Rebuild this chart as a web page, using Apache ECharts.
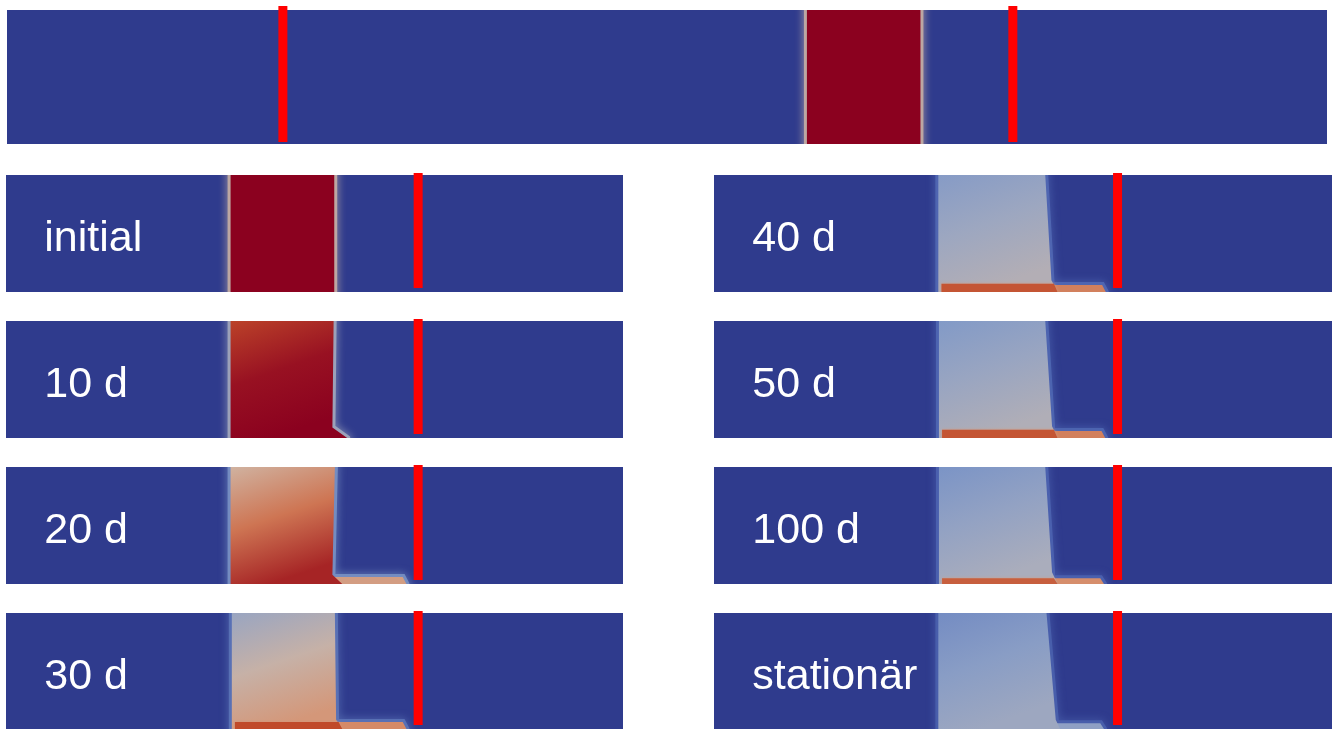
<!DOCTYPE html>
<html>
<head>
<meta charset="utf-8">
<script src="https://cdn.jsdelivr.net/npm/echarts@6/dist/echarts.min.js"></script>
<style>
  html, body { margin: 0; background: #fff; }
  #chart { width: 1334px; height: 729px; }
</style>
</head>
<body>
<div id="chart"></div>
<script>
// x: position along section (0-1000), y: height in panel (0 bottom - 100 top)
// concentrations 0 (background) .. 1 (initial plume)

// overview strip on top
const overviewPlume = [606, 692];
const overviewWells = [209, 762];
const overviewWellSpan = [103, 1.5];

// the eight time steps
const panelNames = ['initial', '10 d', '20 d', '30 d', '40 d', '50 d', '100 d', 'stationär'];
const plumeLeft  = [364, 364, 364, 366, 363, 364, 364, 363];
const plumeRight = [532, 531, 533, 533, 536, 536, 536, 538];
const footX      = [532, 529, 529, 535, 546, 547, 547, 553];
const footY      = [0, 9, 8, 8, 10, 10, 10, 8];
const footEnd    = [532, 553, 545, 545, 556, 556, 556, 560];
const tailEnd    = [0, 0, 643, 643, 628, 627, 625, 625];
const tailTop    = [0, 0, 6, 6, 6, 6, 5, 5];
const stripTop   = [0, 0, 0, 6, 7, 7, 5, 0];
const concTop    = [1, 0.77, 0.5, 0.33, 0.27, 0.26, 0.24, 0.22];
const concMid    = [1, 0.92, 0.67, 0.47, 0.34, 0.33, 0.31, 0.28];
const concBottom = [1, 1, 0.85, 0.59, 0.41, 0.4, 0.38, 0.34];
const concStrip  = [1, 1, 0.85, 0.75, 0.73, 0.73, 0.71, 0.34];
const concTail   = [0, 0, 0.57, 0.63, 0.65, 0.65, 0.62, 0.3];
const panelWell  = [668, 668, 668, 668, 653, 653, 653, 653];
const wellSpan   = [101.7, 3.5];

// cool to warm colour scale
const colorScale = ['#2f3b8d', '#5068b4', '#7f98c8', '#a8adbd', '#d0b2a0', '#d68d6a', '#c04a2a', '#a01a24', '#8b011f'];

function hexRgb(h) {
  return [parseInt(h.slice(1, 3), 16), parseInt(h.slice(3, 5), 16), parseInt(h.slice(5, 7), 16)];
}
function concColor(c) {
  c = Math.max(0, Math.min(1, c));
  var pos = c * (colorScale.length - 1);
  var i = Math.min(Math.floor(pos), colorScale.length - 2);
  var t = pos - i;
  var a = hexRgb(colorScale[i]), b = hexRgb(colorScale[i + 1]);
  var rgb = a.map(function (v, k) { return Math.round(v + (b[k] - v) * t); });
  return 'rgb(' + rgb.join(',') + ')';
}

const bg = '#2f3b8d';
const colLeft = [6, 714], colWidth = [617, 618];
const rowTop = [175, 321, 467, 613];

let grid = [{ left: 7, top: 10, width: 1320, height: 134 }];
for (var i = 0; i < 8; i++) {
  var col = i < 4 ? 0 : 1;
  grid.push({ left: colLeft[col], top: rowTop[i % 4], width: colWidth[col], height: 117 });
}
grid.forEach(function (g) {
  g.show = true;
  g.backgroundColor = bg;
  g.borderWidth = 0;
});

let xAxis = grid.map(function (g, k) {
  return { type: 'value', gridIndex: k, min: 0, max: 1000, show: false };
});
let yAxis = grid.map(function (g, k) {
  return { type: 'value', gridIndex: k, min: 0, max: 100, show: false };
});

// soft edge between plume and background
function halo(points, c) {
  var col = concColor(c);
  return {
    type: 'polyline',
    shape: { points: points },
    style: { stroke: col, lineWidth: 6, fill: null, opacity: 0.85, shadowBlur: 9, shadowColor: col }
  };
}

function wellRender(span) {
  return function (params, api) {
    var top = api.coord([api.value(0), span[0]]);
    var bot = api.coord([api.value(0), span[1]]);
    return {
      type: 'rect',
      shape: { x: top[0] - 4.5, y: top[1], width: 9, height: bot[1] - top[1] },
      style: { fill: '#ff0000' }
    };
  };
}

function plumeRender(i) {
  return function (params, api) {
    var p = function (x, y) { return api.coord([x, y]); };
    var kids = [];
    var hc = concTop[i] * 0.48;
    kids.push(halo([p(plumeLeft[i], 110), p(plumeLeft[i], -10)], hc));
    var right = [p(plumeRight[i], 110), p(plumeRight[i], 100), p(footX[i], footY[i])];
    if (tailEnd[i]) {
      right.push(p(footX[i], tailTop[i]), p(tailEnd[i], tailTop[i]), p(tailEnd[i] + 6, 0), p(tailEnd[i] + 7, -10));
    } else {
      right.push(p(footEnd[i], 0), p(footEnd[i] + 1, -10));
    }
    kids.push(halo(right, hc));
    if (tailEnd[i]) {
      kids.push({
        type: 'polygon',
        shape: { points: [p(footX[i], tailTop[i]), p(tailEnd[i], tailTop[i]), p(tailEnd[i] + 6, 0), p(footX[i], 0)] },
        style: { fill: concColor(concTail[i]) }
      });
    }
    kids.push({
      type: 'polygon',
      shape: { points: [p(plumeLeft[i], 100), p(plumeRight[i], 100), p(footX[i], footY[i]), p(footEnd[i], 0), p(plumeLeft[i], 0)] },
      style: {
        fill: new echarts.graphic.LinearGradient(0, 0, 0.35, 1, [
          { offset: 0, color: concColor(concTop[i]) },
          { offset: 0.5, color: concColor(concMid[i]) },
          { offset: 1, color: concColor(concBottom[i]) }
        ])
      }
    });
    if (stripTop[i]) {
      kids.push({
        type: 'polygon',
        shape: { points: [p(plumeLeft[i] + 5, stripTop[i]), p(footEnd[i] - 6, stripTop[i]), p(footEnd[i], 0), p(plumeLeft[i] + 5, 0)] },
        style: { fill: concColor(concStrip[i]), shadowBlur: 3, shadowColor: concColor(concStrip[i] * 0.8) }
      });
    }
    var lp = p(62, 45);
    kids.push({
      type: 'text',
      style: {
        text: panelNames[i], x: lp[0], y: lp[1],
        fill: '#ffffff', font: '43px "Liberation Sans", Arial, sans-serif',
        align: 'left', verticalAlign: 'middle'
      }
    });
    return { type: 'group', children: kids };
  };
}

let series = [];
// overview
series.push({
  type: 'custom', xAxisIndex: 0, yAxisIndex: 0, clip: true, silent: true,
  data: [[overviewPlume[0], 50]],
  renderItem: function (params, api) {
    var a = api.coord([overviewPlume[0], 100]), b = api.coord([overviewPlume[1], 0]);
    var up = api.coord([0, 110])[1], dn = api.coord([0, -10])[1];
    return {
      type: 'group',
      children: [
        halo([[a[0], up], [a[0], dn]], 0.48),
        halo([[b[0], up], [b[0], dn]], 0.48),
        {
          type: 'rect',
          shape: { x: a[0], y: a[1], width: b[0] - a[0], height: b[1] - a[1] },
          style: { fill: concColor(1) }
        }
      ]
    };
  }
});
series.push({
  type: 'custom', xAxisIndex: 0, yAxisIndex: 0, clip: false, silent: true,
  data: overviewWells.map(function (x) { return [x, 50]; }),
  renderItem: wellRender(overviewWellSpan)
});
for (var j = 0; j < 8; j++) {
  series.push({
    type: 'custom', xAxisIndex: j + 1, yAxisIndex: j + 1, clip: true, silent: true,
    data: [[plumeLeft[j], 50]],
    renderItem: plumeRender(j)
  });
  series.push({
    type: 'custom', xAxisIndex: j + 1, yAxisIndex: j + 1, clip: false, silent: true,
    data: [[panelWell[j], 50]],
    renderItem: wellRender(wellSpan)
  });
}

let chart = echarts.init(document.getElementById('chart'), null, { renderer: 'canvas' });
chart.setOption({
  animation: false,
  backgroundColor: '#ffffff',
  grid: grid,
  xAxis: xAxis,
  yAxis: yAxis,
  series: series
});
</script>
</body>
</html>
